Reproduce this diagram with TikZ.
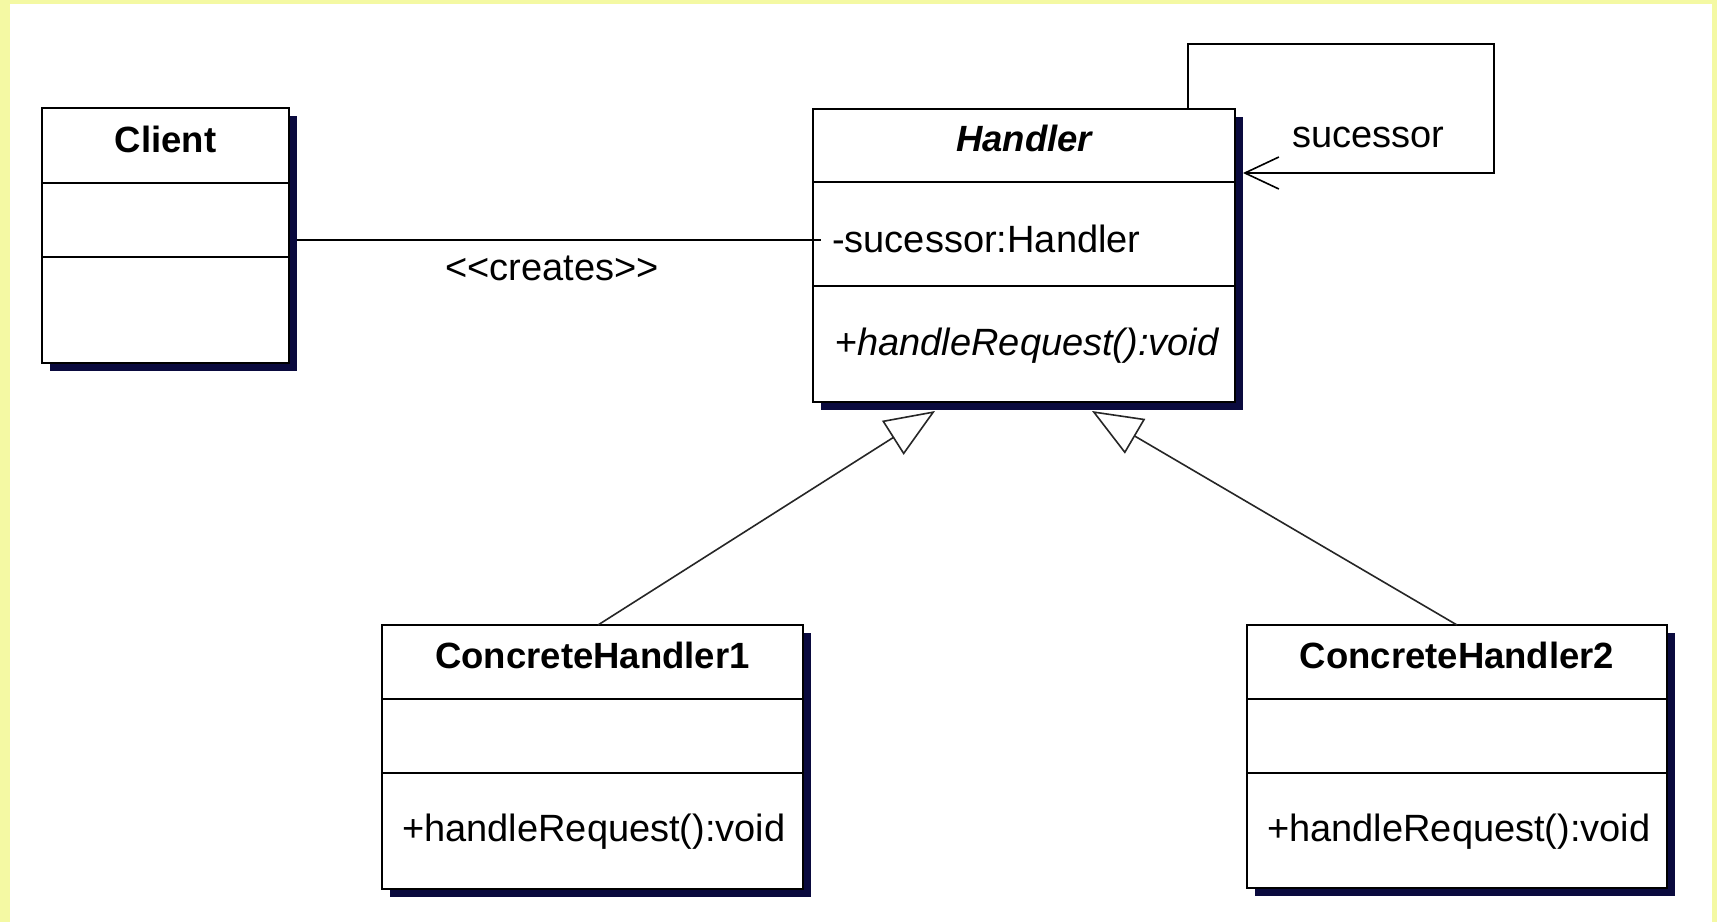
\documentclass[tikz,border=0pt]{standalone}
\usepackage{fontspec}
\newfontfamily\umlfont{Liberation Sans}
\usetikzlibrary{arrows.meta,shadows}
\definecolor{pageyellow}{HTML}{F4F9A3}
\definecolor{shade}{HTML}{0A0A3E}
\tikzset{
  cls/.style={draw=black, line width=2pt, fill=white, anchor=north west,
    inner sep=0pt, outer sep=0pt,
    drop shadow={shadow xshift=7.5pt, shadow yshift=-7.5pt, fill=shade, opacity=1}},
  divider/.style={draw=black, line width=2pt},
  title/.style={anchor=base, inner sep=0pt, font=\umlfont\bfseries\fontsize{36.5}{40}\selectfont},
  member/.style={anchor=base west, inner sep=0pt, font=\umlfont\fontsize{38}{42}\selectfont},
  label/.style={inner sep=0pt, font=\umlfont\fontsize{38}{42}\selectfont},
  gen/.style={draw=black!85, line width=1.6pt,
    -{Triangle[open, length=50pt, width=40pt, line width=1.6pt, fill=white]}},
  assoc/.style={draw=black, line width=1.8pt},
  nav/.style={draw=black, line width=1.8pt,
    -{Straight Barb[length=34pt, width=32pt, line width=1.6pt]}}
}
\begin{document}
\begin{tikzpicture}[x=1pt, y=-1pt]
  \useasboundingbox (0,0) rectangle (1717,922);
  % page
  \fill[pageyellow] (0,0) rectangle (1717,922);
  \fill[white] (10,4) rectangle (1712,922);

  % class boxes
  \node[cls, minimum width=247pt, minimum height=255pt] (client) at (42,108) {};
  \node[cls, minimum width=422pt, minimum height=293pt] (handler) at (813,109) {};
  \node[cls, minimum width=421pt, minimum height=264pt] (ch1) at (382,625) {};
  \node[cls, minimum width=420pt, minimum height=263pt] (ch2) at (1247,625) {};

  % compartments
  \draw[divider] (client.west |- 0,183) -- (client.east |- 0,183);
  \draw[divider] (client.west |- 0,257) -- (client.east |- 0,257);
  \draw[divider] (handler.west |- 0,182) -- (handler.east |- 0,182);
  \draw[divider] (handler.west |- 0,286) -- (handler.east |- 0,286);
  \draw[divider] (ch1.west |- 0,699) -- (ch1.east |- 0,699);
  \draw[divider] (ch1.west |- 0,773) -- (ch1.east |- 0,773);
  \draw[divider] (ch2.west |- 0,699) -- (ch2.east |- 0,699);
  \draw[divider] (ch2.west |- 0,773) -- (ch2.east |- 0,773);

  % names and members
  \node[title] (clientname) at (client.north |- 0,152) {Client};
  \node[title] (handlername) at (handler.north |- 0,151) {\itshape Handler};
  \node[member] (hattr) at (832,252) {-sucessor:Handler};
  \node[member] (hop) at (835,355) {+\itshape handleRequest():void};
  \node[title] (ch1name) at (ch1.north |- 0,668) {ConcreteHandler1};
  \node[member] (ch1op) at (402,841) {+handleRequest():void};
  \node[title] (ch2name) at (ch2.north |- 0,668) {ConcreteHandler2};
  \node[member] (ch2op) at (1267,841) {+handleRequest():void};

  % association Client -- Handler
  \draw[assoc] ([xshift=7.5pt, yshift=-4.5pt]client.east)
    -- ([xshift=7.5pt, yshift=-4.5pt]client.east -| handler.west);
  \node[label, anchor=base] (creates) at (552,280)
    {\textless\textless creates\textgreater\textgreater};

  % self association: successor
  \coordinate (loopcorner) at (1494,44);
  \draw[nav] ([xshift=164pt]handler.north) |- (loopcorner)
    |- ([xshift=8pt, yshift=82.5pt]handler.east);
  \node[label, anchor=base west] (succ) at (1292,147) {sucessor};

  % generalisations
  \draw[gen] ([xshift=5.5pt]ch1.north) -- ([xshift=-89pt, yshift=-9pt]handler.south);
  \draw[gen] (ch2.north) -- ([xshift=68pt, yshift=-9pt]handler.south);
\end{tikzpicture}
\end{document}
